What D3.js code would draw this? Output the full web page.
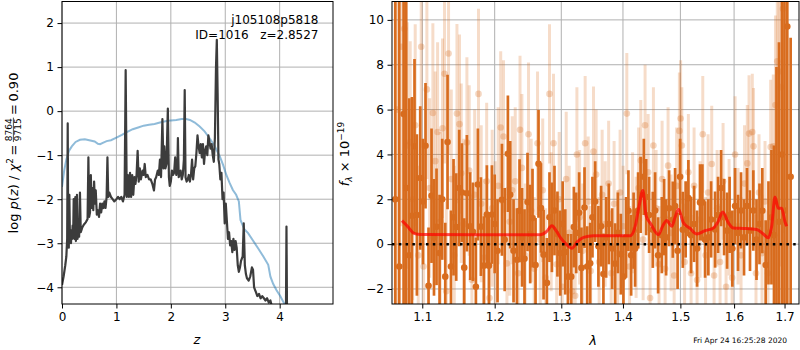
<!DOCTYPE html>
<html>
<head>
<meta charset="utf-8">
<script src="https://cdn.jsdelivr.net/npm/d3@7"></script>
<style>
  body { margin: 0; background: #fff; }
  text { font-family: "DejaVu Sans", sans-serif; }
</style>
</head>
<body>
<svg id="fig" width="800" height="350"></svg>
<script>
// ---- data ----
// p(z) curve: [z, log p(z)]
const pzPoints = [
  [0,-3.95],[0.03,-3.75],[0.06,-3.5],[0.08,-3.3],[0.095,-2.9],[0.105,-0.28],[0.115,-2.95],[0.125,-3.1],
  [0.135,-1.9],[0.145,-2.8],[0.155,-2.7],[0.165,-3.0],[0.175,-2.75],[0.185,-2.9],[0.195,-2.6],[0.205,-2.85],
  [0.215,-2.0],[0.225,-2.9],[0.235,-2.7],[0.245,-1.95],[0.255,-2.95],[0.265,-2.8],[0.275,-1.9],[0.285,-2.9],
  [0.3,-2.75],[0.315,-2.85],[0.33,-1.85],[0.345,-2.75],[0.37,-2.65],[0.4,-2.58],[0.44,-2.52],[0.47,-2.45],
  [0.485,-1.05],[0.5,-2.4],[0.515,-2.3],[0.53,-1.45],[0.545,-2.2],[0.56,-1.75],[0.575,-2.25],[0.59,-1.6],
  [0.605,-2.1],[0.62,-1.8],[0.64,-2.35],[0.66,-2.25],[0.68,-2.4],[0.7,-2.1],[0.72,-2.3],[0.74,-2.1],
  [0.76,-2.2],[0.78,-2.05],[0.8,-2.2],[0.82,-1.95],[0.835,-1.05],[0.85,-1.95],[0.87,-1.85],[0.9,-1.95],
  [0.93,-2.0],[0.96,-2.05],[1.0,-2.0],[1.03,-1.95],[1.06,-2.0],[1.09,-1.95],[1.12,-2.05],[1.15,-1.9],
  [1.17,0.93],[1.19,-1.95],[1.21,-1.45],[1.23,-1.95],[1.25,-1.4],[1.27,-1.95],[1.29,-1.45],[1.31,-1.9],
  [1.33,-1.5],[1.35,-1.65],[1.37,-1.45],[1.39,-0.9],[1.41,-1.6],[1.43,-1.3],[1.45,-1.55],[1.48,-1.35],
  [1.5,-1.45],[1.52,-1.2],[1.54,-1.5],[1.57,-1.45],[1.6,-1.55],[1.63,-1.55],[1.66,-1.65],[1.69,-1.8],
  [1.71,-1.55],[1.73,-1.5],[1.76,-1.35],[1.78,-1.45],[1.8,-1.1],[1.82,-1.5],[1.845,-0.18],[1.865,-1.3],
  [1.88,-0.8],[1.9,-1.3],[1.92,-1.2],[1.945,0.06],[1.965,-1.5],[1.98,-1.7],[2.0,-1.6],[2.02,-1.35],
  [2.04,-1.45],[2.06,-1.4],[2.08,-1.05],[2.1,-1.45],[2.12,-1.3],[2.13,-0.61],[2.145,-1.5],[2.16,-1.45],
  [2.18,-1.35],[2.2,-1.55],[2.22,-1.45],[2.24,-1.1],[2.255,0.48],[2.27,-1.5],[2.29,-1.6],[2.31,-1.55],
  [2.33,-1.45],[2.35,-1.6],[2.37,-1.45],[2.39,-1.1],[2.41,-1.55],[2.43,-1.3],[2.45,-1.25],[2.47,-0.95],
  [2.49,-0.55],[2.51,-0.8],[2.53,-0.95],[2.55,-0.75],[2.57,-1.05],[2.59,-0.75],[2.61,-1.2],[2.63,-0.9],
  [2.65,-0.8],[2.67,-1.0],[2.69,-0.55],[2.71,-0.7],[2.73,-0.85],[2.75,-0.75],[2.77,-1.0],[2.79,-1.15],
  [2.81,-0.6],[2.83,1.0],[2.845,1.62],[2.86,0.4],[2.875,-1.1],[2.89,-1.2],[2.91,-1.55],[2.93,-1.4],
  [2.95,-2.0],[2.97,-1.85],[2.99,-2.55],[3.01,-2.1],[3.03,-2.5],[3.05,-2.9],[3.07,-2.75],[3.09,-3.05],
  [3.11,-2.95],[3.13,-3.2],[3.15,-2.9],[3.17,-3.15],[3.19,-2.95],[3.21,-3.1],[3.23,-3.5],[3.25,-3.65],
  [3.27,-3.55],[3.29,-3.4],[3.32,-3.3],[3.34,-2.55],[3.36,-3.5],[3.38,-3.7],[3.4,-3.8],[3.43,-3.85],
  [3.46,-3.75],[3.49,-3.55],[3.51,-3.6],[3.53,-4.0],[3.56,-4.1],[3.59,-4.2],[3.62,-4.15],[3.65,-4.25],
  [3.68,-4.2],[3.71,-4.25],[3.74,-4.3],[3.77,-4.25],[3.8,-4.35],[3.83,-4.3],[3.86,-4.45],[3.9,-4.9],
  [4.0,-5.2],[4.1,-5.0],[4.115,-4.6],[4.125,-2.62],[4.135,-4.6],[4.15,-5.0],[4.2,-5.3]
];
// smooth prior / chi2 curve: [z, value]
const priorPoints = [
  [0,-1.72],[0.04,-1.35],[0.08,-1.1],[0.13,-0.9],[0.18,-0.8],[0.25,-0.7],[0.33,-0.65],[0.42,-0.64],
  [0.5,-0.66],[0.6,-0.69],[0.66,-0.74],[0.7,-0.75],[0.75,-0.72],[0.82,-0.68],[0.9,-0.66],[1.0,-0.6],
  [1.1,-0.54],[1.2,-0.47],[1.3,-0.41],[1.4,-0.37],[1.5,-0.33],[1.6,-0.31],[1.7,-0.29],[1.8,-0.26],
  [1.9,-0.23],[2.0,-0.21],[2.1,-0.2],[2.2,-0.18],[2.28,-0.18],[2.35,-0.2],[2.44,-0.26],[2.53,-0.35],
  [2.62,-0.46],[2.71,-0.61],[2.8,-0.78],[2.9,-1.03],[2.96,-1.22],[3.02,-1.45],[3.08,-1.63],[3.14,-1.79],
  [3.2,-1.9],[3.25,-2.05],[3.28,-2.47],[3.35,-2.68],[3.42,-2.77],[3.5,-2.92],[3.6,-3.11],[3.7,-3.3],
  [3.79,-3.49],[3.83,-3.76],[3.88,-3.92],[3.94,-4.06],[4.01,-4.2],[4.08,-4.36],[4.13,-4.45]
];
// spectrum, first beam: [lambda, flux, err]
const beamA = [
  [1.0649,2.0,14],[1.0700,-1.0,12],[1.0756,5.8,12],[1.0790,2.5,9],[1.0829,-0.5,7],[1.0864,1.26,5.3],
  [1.0898,4.36,3.9],[1.0929,1.3,3.6],[1.0973,2.95,3.2],[1.1009,1.9,2.8],[1.1043,4.39,2.8],[1.1083,-1.86,2.6],
  [1.1123,2.16,3.0],[1.1156,0.3,2.6],[1.1190,0.77,2.6],[1.1231,-0.4,2.6],[1.1267,2.0,2.7],[1.1308,-1.45,2.4],
  [1.1339,4.55,3.0],[1.1386,-1.0,2.5],[1.1421,1.2,2.6],[1.1458,0.76,2.4],[1.1499,2.5,2.6],[1.1537,2.3,2.2],
  [1.1569,-1.05,2.2],[1.1606,2.27,2.6],[1.1652,0.8,2.4],[1.1690,0.55,2.2],[1.1732,-1.9,2.2],[1.1760,2.66,2.5],
  [1.1803,0.78,2.2],[1.1845,-0.96,2.2],[1.1888,1.32,2.2],[1.1917,-0.96,2.2],[1.1960,1.32,2.2],[1.2000,0.9,2.2],
  [1.2041,-0.3,2.3],[1.2105,1.98,2.5],[1.2145,0.2,2.3],[1.2192,4.03,2.6],[1.2226,2.2,2.4],[1.2275,-0.3,2.3],
  [1.2325,-0.7,2.3],[1.2364,1.49,2.3],[1.2401,0.3,2.2],[1.2438,-0.65,2.2],[1.2483,1.88,2.2],[1.2523,0.45,2.2],
  [1.2558,1.16,2.2],[1.2604,-0.93,2.1],[1.2649,3.58,2.4],[1.2686,1.61,2.0],[1.2726,-0.47,2.0],[1.2777,-1.73,2.0],
  [1.2817,1.2,2.0],[1.2854,0.75,2.0],[1.2894,1.5,2.0],[1.2940,0.45,1.9],[1.2983,-0.4,1.9],[1.3022,0.9,1.9],
  [1.3062,-0.35,1.9],[1.3104,-1.45,1.9],[1.3156,-1.45,1.9],[1.3198,0.76,1.8],[1.3235,0.5,1.8],[1.3282,1.4,1.8],
  [1.3319,-1.06,1.8],[1.3368,1.63,1.8],[1.3411,-1.0,1.8],[1.3459,-0.85,1.8],[1.3496,1.2,1.8],[1.3540,1.9,1.8],
  [1.3593,-0.1,1.8],[1.3637,0.8,1.8],[1.3675,-1.33,1.8],[1.3720,0.3,1.8],[1.3764,0.9,1.8],[1.3819,-0.2,1.8],
  [1.3869,-0.87,1.8],[1.3915,0.5,1.8],[1.3964,-0.45,1.8],[1.4008,-1.45,1.8],[1.4053,0.3,1.8],[1.4092,1.49,1.8],
  [1.4138,-0.5,1.8],[1.4180,0.6,1.7],[1.4206,-0.2,1.7],[1.4257,1.5,1.7],[1.4300,2.2,1.7],[1.4355,3.0,1.7],
  [1.4395,2.1,1.7],[1.4447,1.3,1.7],[1.4511,0.64,1.7],[1.4551,1.5,1.7],[1.4604,-0.5,1.7],[1.4669,0.4,1.7],
  [1.4710,1.2,1.7],[1.4745,0.3,1.7],[1.4798,1.6,1.7],[1.4864,1.09,1.7],[1.4905,1.7,1.7],[1.4950,-0.3,1.7],
  [1.4995,3.0,1.7],[1.5044,0.64,1.7],[1.5095,1.1,1.7],[1.5145,2.05,1.7],[1.5194,0.4,1.7],[1.5249,0.9,1.7],
  [1.5304,-0.2,1.7],[1.5359,1.86,1.7],[1.5402,1.86,1.7],[1.5452,0.2,1.7],[1.5513,0.3,1.7],[1.5564,1.1,1.7],
  [1.5639,0.65,1.7],[1.5695,1.3,1.7],[1.5752,2.5,1.7],[1.5809,1.2,1.7],[1.5866,0.6,1.7],[1.5914,1.3,1.7],
  [1.5967,-0.2,1.7],[1.6019,1.7,1.7],[1.6076,0.5,1.7],[1.6134,1.5,1.7],[1.6192,0.3,1.7],[1.6250,1.7,1.7],
  [1.6309,0.6,1.8],[1.6374,1.5,1.8],[1.6437,0.2,1.8],[1.6496,0.9,1.8],[1.6552,1.49,1.9],[1.6619,-0.93,2.0],
  [1.6675,0.5,2.3],[1.6735,1.2,3],[1.6786,0.4,4],[1.6836,1.9,6],[1.6887,1.0,8],[1.6948,4.0,12],
  [1.6999,1.5,15],[1.7056,9.7,15],[1.7125,3.0,6.2]
];
// spectrum, second beam (drawn faint): [lambda, flux, err]
const beamB = [
  [1.0674,6.0,12],[1.0726,8.8,8],[1.0765,9.6,7],[1.0803,4.4,5.5],[1.0842,4.55,4.5],[1.0874,2.0,4.5],
  [1.0907,5.3,4.5],[1.0947,-0.5,4],[1.0986,8.8,4.5],[1.1017,-1.0,4],[1.1061,6.9,4],[1.1098,2.5,4],
  [1.1141,5.85,4],[1.1173,3.7,4],[1.1204,5.0,4],[1.1240,1.0,4],[1.1271,5.17,4],[1.1298,7.6,4],
  [1.1322,-2.1,4],[1.1353,8.5,4.5],[1.1390,2.9,4],[1.1431,-0.5,4],[1.1468,5.82,4],[1.1503,5.35,4],
  [1.1527,3.16,4],[1.1562,0.9,3.8],[1.1606,4.53,3.8],[1.1638,3.28,3.8],[1.1676,-1.6,3.8],[1.1715,2.2,3.8],
  [1.1769,6.7,3.8],[1.1807,1.8,3.5],[1.1850,-0.6,3.5],[1.1885,2.8,3.5],[1.1925,-2.4,3.5],[1.1964,1.6,3.5],
  [1.2007,0.2,3.5],[1.2051,2.6,3.5],[1.2087,5.2,3.4],[1.2128,4.8,3.4],[1.2178,-0.86,3.4],[1.2219,1.0,3.3],
  [1.2256,2.4,3.3],[1.2300,2.8,3.3],[1.2344,-1.3,3.3],[1.2371,5.1,3.3],[1.2399,3.4,3.3],[1.2448,-0.5,3.2],
  [1.2498,4.9,3.2],[1.2538,1.5,3.2],[1.2584,-1.1,3.2],[1.2634,4.5,3.2],[1.2675,0.2,3.2],[1.2713,2.4,3.2],
  [1.2759,-1.5,3.1],[1.2817,6.7,3.1],[1.2843,1.0,3.1],[1.2879,4.5,3.1],[1.2928,-0.9,3.1],[1.2967,2.0,3.0],
  [1.3014,-1.9,3.0],[1.3077,2.9,3.0],[1.3124,0.5,3.0],[1.3172,-2.1,3.0],[1.3219,-2.3,3.0],[1.3246,4.0,3.0],
  [1.3290,1.2,3.0],[1.3338,-0.3,3.0],[1.3378,4.5,3.0],[1.3427,1.9,2.9],[1.3467,-1.2,2.9],[1.3513,4.13,2.9],
  [1.3556,3.1,2.9],[1.3605,-0.8,2.9],[1.3654,2.2,2.9],[1.3704,0.9,2.8],[1.3761,2.7,2.8],[1.3803,-1.3,2.8],
  [1.3852,1.8,2.8],[1.3910,-0.4,2.8],[1.3952,2.3,2.8],[1.4003,0.8,2.7],[1.4065,5.82,2.7],[1.4112,-1.0,2.7],
  [1.4163,1.4,2.7],[1.4223,0.3,2.7],[1.4266,2.5,2.7],[1.4303,3.73,2.7],[1.4343,0.2,2.7],[1.4377,5.3,2.7],
  [1.4430,3.2,2.6],[1.4464,-2.4,2.6],[1.4522,4.4,2.6],[1.4569,1.6,2.6],[1.4621,-0.9,2.6],[1.4674,2.9,2.6],
  [1.4727,-1.1,2.6],[1.4780,3.5,2.6],[1.4834,0.5,2.6],[1.4888,-1.4,2.6],[1.4932,2.6,2.6],[1.4982,5.05,2.6],
  [1.5004,5.6,2.6],[1.5026,4.4,2.6],[1.5076,-0.8,2.6],[1.5145,3.2,2.6],[1.5194,-1.3,2.6],[1.5249,2.6,2.6],
  [1.5304,-1.6,2.6],[1.5359,1.1,2.6],[1.5409,4.9,2.6],[1.5461,-0.5,2.6],[1.5508,2.3,2.6],[1.5576,3.57,2.6],
  [1.5620,-1.4,2.6],[1.5677,1.6,2.6],[1.5733,-0.8,2.6],[1.5790,2.8,2.6],[1.5847,-1.9,2.6],[1.5904,1.2,2.6],
  [1.5962,-1.5,2.6],[1.6019,4.0,2.6],[1.6076,0.8,2.6],[1.6134,-0.5,2.6],[1.6202,2.7,2.6],[1.6256,3.6,2.6],
  [1.6290,4.93,2.6],[1.6354,5.0,2.6],[1.6378,4.36,2.6],[1.6427,-1.3,2.6],[1.6486,2.3,2.6],[1.6546,-0.4,2.6],
  [1.6606,1.9,2.7],[1.6665,-1.3,2.8],[1.6719,4.33,3.0],[1.6772,4.36,3.2],[1.6816,6.2,4],[1.6852,8.15,5],
  [1.6887,7.7,6],[1.6927,7.0,8],[1.6968,10.5,10]
];
// best-fit model: [lambda, flux]
const modelPoints = [
  [1.0735,1.05],[1.0778,0.9],[1.0829,0.7],[1.0885,0.49],[1.0947,0.44],[1.1017,0.43],[1.1793,0.42],
  [1.2675,0.42],[1.2768,0.55],[1.2854,0.82],[1.2920,0.6],[1.2983,0.3],[1.3077,0.0],[1.3167,-0.18],
  [1.3251,0.1],[1.3352,0.3],[1.3513,0.37],[1.4121,0.37],[1.4206,0.78],[1.4274,1.7],[1.4338,2.39],
  [1.4395,1.26],[1.4476,0.9],[1.4609,0.42],[1.4683,0.8],[1.4757,1.05],[1.4846,0.8],[1.4905,1.2],
  [1.4965,1.56],[1.5055,0.95],[1.5176,0.7],[1.5298,0.45],[1.5452,0.6],[1.5607,0.72],[1.5695,1.0],
  [1.5784,1.43],[1.5891,0.95],[1.5987,0.72],[1.6178,0.7],[1.6441,0.65],[1.6572,0.45],[1.6671,0.28],
  [1.6739,0.8],[1.6806,2.1],[1.6873,1.6],[1.6941,1.6],[1.7009,1.0],[1.7043,0.8]
];
const zTicks = [0, 1, 2, 3, 4];
const pzTicks = [-4, -3, -2, -1, 0, 1, 2];
const lamTicks = [1.1, 1.2, 1.3, 1.4, 1.5, 1.6, 1.7];
const fluxTicks = [-2, 0, 2, 4, 6, 8, 10];

// ---- layout ----
const svg = d3.select('#fig');
const plotTop = 1.5, plotBottom = 304;
const fs = 12;
const orange = '#d86c1e';

const zX = d3.scaleLinear().domain([0, 4.98]).range([62, 333]);
const pzY = d3.scaleLinear().domain([-4.38, 2.49]).range([plotBottom, plotTop]);
const lamX = d3.scaleLog().domain([1.0607, 1.7298]).range([392, 799]);
const fY = d3.scaleLinear().domain([-2.67, 10.82]).range([plotBottom, plotTop]);

const defs = svg.append('defs');
defs.append('clipPath').attr('id', 'clipL').append('rect')
    .attr('x', 62).attr('y', plotTop).attr('width', 271).attr('height', plotBottom - plotTop);
defs.append('clipPath').attr('id', 'clipR').append('rect')
    .attr('x', 392).attr('y', plotTop).attr('width', 407).attr('height', plotBottom - plotTop);

// grid + axes for one panel
function panel(x, y, xt, yt, xfmt, yfmt) {
    const [x0, x1] = x.range();
    const g = svg.append('g');
    g.selectAll('line.gx').data(xt).join('line')
        .attr('x1', d => x(d)).attr('x2', d => x(d))
        .attr('y1', plotTop).attr('y2', plotBottom)
        .attr('stroke', '#b0b0b0').attr('stroke-width', 1);
    g.selectAll('line.gy').data(yt).join('line')
        .attr('x1', x0).attr('x2', x1)
        .attr('y1', d => y(d)).attr('y2', d => y(d))
        .attr('stroke', '#b0b0b0').attr('stroke-width', 1);
    const ax = svg.append('g').attr('transform', `translate(0,${plotBottom})`)
        .call(d3.axisBottom(x).tickValues(xt).tickFormat(xfmt).tickSize(4.5).tickPadding(3.5));
    const ay = svg.append('g').attr('transform', `translate(${x0},0)`)
        .call(d3.axisLeft(y).tickValues(yt).tickFormat(yfmt).tickSize(4.5).tickPadding(3.5));
    [ax, ay].forEach(a => {
        a.select('.domain').remove();
        a.attr('font-size', fs).attr('font-family', '"DejaVu Sans", sans-serif');
        a.selectAll('text').attr('fill', '#000');
        a.selectAll('line').attr('stroke', '#000');
    });
    return g;
}
function frame(x) {
    const [x0, x1] = x.range();
    svg.append('rect').attr('x', x0).attr('y', plotTop).attr('width', x1 - x0).attr('height', plotBottom - plotTop)
        .attr('fill', 'none').attr('stroke', '#000').attr('stroke-width', 1);
}

// ---- left panel: p(z) ----
panel(zX, pzY, zTicks, pzTicks, d3.format('d'), d3.format('d'));
const gl = svg.append('g').attr('clip-path', 'url(#clipL)');
gl.append('path').datum(priorPoints)
    .attr('fill', 'none').attr('stroke', '#1f77b4').attr('stroke-opacity', 0.5).attr('stroke-width', 2)
    .attr('d', d3.line().x(d => zX(d[0])).y(d => pzY(d[1])));
gl.append('path').datum(pzPoints)
    .attr('fill', 'none').attr('stroke', '#3c3c3c').attr('stroke-width', 2.2).attr('stroke-linejoin', 'round')
    .attr('d', d3.line().x(d => zX(d[0])).y(d => pzY(d[1])));
frame(zX);

svg.append('text').attr('x', 318.5).attr('y', 24).attr('text-anchor', 'end')
    .attr('font-size', fs).text('j105108p5818');
svg.append('text').attr('x', 318.5).attr('y', 38.5).attr('text-anchor', 'end')
    .attr('font-size', fs).style('white-space', 'pre').text('ID=1016   z=2.8527');

svg.append('text').attr('x', zX(2.48)).attr('y', 344).attr('text-anchor', 'middle')
    .attr('font-size', 13).attr('font-style', 'italic').text('z');

// left y label with stacked fraction
const lf = 13;
const yl = svg.append('g').attr('transform', 'translate(18,153) rotate(-90)');
const yin = yl.append('g');
const t1 = yin.append('text').attr('font-size', lf);
t1.append('tspan').text('log ');
t1.append('tspan').attr('font-style', 'italic').text('p');
t1.append('tspan').text('(');
t1.append('tspan').attr('font-style', 'italic').text('z');
t1.append('tspan').text(') / ');
t1.append('tspan').attr('font-style', 'italic').text('χ');
t1.append('tspan').attr('font-size', 9).attr('dy', -5.5).text('2');
t1.append('tspan').attr('dy', 5.5).text('\u2009=\u2009');
const w1 = t1.node().getComputedTextLength();
const num = yin.append('text').attr('font-size', 9).attr('text-anchor', 'middle').attr('y', -6.2).text('8764');
const den = yin.append('text').attr('font-size', 9).attr('text-anchor', 'middle').attr('y', 3.2).text('9715');
const fw = Math.max(num.node().getComputedTextLength(), den.node().getComputedTextLength()) + 1.5;
num.attr('x', w1 + fw / 2);
den.attr('x', w1 + fw / 2);
yin.append('line').attr('x1', w1).attr('x2', w1 + fw).attr('y1', -4.6).attr('y2', -4.6)
    .attr('stroke', '#000').attr('stroke-width', 0.7);
const t3 = yin.append('text').attr('font-size', lf).attr('x', w1 + fw).text('\u2009=\u20090.90');
const wAll = w1 + fw + t3.node().getComputedTextLength();
yin.attr('transform', `translate(${-wAll / 2},0)`);

// ---- right panel: spectrum ----
panel(lamX, fY, lamTicks, fluxTicks, d3.format('.1f'), d3.format('d'));
const gr = svg.append('g').attr('clip-path', 'url(#clipR)');

// faint beam
const gb = gr.append('g');
gb.selectAll('line').data(beamB).join('line')
    .attr('x1', d => lamX(d[0])).attr('x2', d => lamX(d[0]))
    .attr('y1', d => fY(d[1] - d[2])).attr('y2', d => fY(d[1] + d[2]))
    .attr('stroke', orange).attr('stroke-opacity', 0.24).attr('stroke-width', 3);
gb.selectAll('circle').data(beamB).join('circle')
    .attr('cx', d => lamX(d[0])).attr('cy', d => fY(d[1])).attr('r', 3.3)
    .attr('fill', orange).attr('fill-opacity', 0.28);

// main beam
const ga = gr.append('g');
ga.selectAll('line').data(beamA).join('line')
    .attr('x1', d => lamX(d[0])).attr('x2', d => lamX(d[0]))
    .attr('y1', d => fY(d[1] - d[2])).attr('y2', d => fY(d[1] + d[2]))
    .attr('stroke', orange).attr('stroke-width', 2.7);
ga.selectAll('circle').data(beamA).join('circle')
    .attr('cx', d => lamX(d[0])).attr('cy', d => fY(d[1])).attr('r', 3.3)
    .attr('fill', orange);

// model
gr.append('path').datum(modelPoints)
    .attr('fill', 'none').attr('stroke', 'red').attr('stroke-opacity', 0.7).attr('stroke-width', 3)
    .attr('stroke-linejoin', 'round')
    .attr('d', d3.line().x(d => lamX(d[0])).y(d => fY(d[1])).curve(d3.curveMonotoneX));

// zero line
gr.append('line')
    .attr('x1', lamX.range()[0]).attr('x2', lamX.range()[1])
    .attr('y1', fY(0)).attr('y2', fY(0))
    .attr('stroke', '#000').attr('stroke-width', 2.5).attr('stroke-dasharray', '2.5,4.3');
frame(lamX);

svg.append('text').attr('x', 593).attr('y', 345).attr('text-anchor', 'middle')
    .attr('font-size', 13).attr('font-style', 'italic').text('λ');

const yr = svg.append('text').attr('font-size', 13)
    .attr('transform', 'translate(349,154) rotate(-90)').attr('text-anchor', 'middle');
yr.append('tspan').attr('font-style', 'italic').text('f');
yr.append('tspan').attr('font-style', 'italic').attr('font-size', 9).attr('dy', 3).text('λ');
yr.append('tspan').attr('dy', -3).text(' × 10');
yr.append('tspan').attr('font-size', 9).attr('dy', -5.5).text('−19');

svg.append('text').attr('x', 787).attr('y', 343).attr('text-anchor', 'end')
    .attr('font-size', 7.5).text('Fri Apr 24 16:25:28 2020');
</script>
</body>
</html>
